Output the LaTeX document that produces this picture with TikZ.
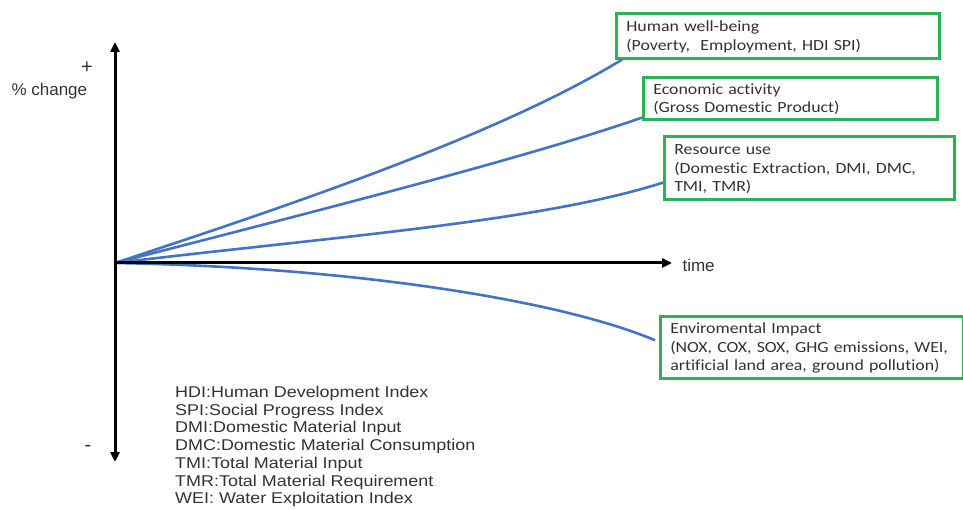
\documentclass[tikz,border=0pt]{standalone}
\usepackage{fontspec}
\setmainfont{Liberation Sans}
\newfontfamily\boxfont[FakeStretch=1.15, Ligatures=NoCommon]{Carlito}
\newfontfamily\legendfont[FakeStretch=1.15]{Liberation Sans}
\usetikzlibrary{arrows.meta}

\definecolor{curveblue}{RGB}{68,114,196}
\definecolor{boxgreen}{RGB}{46,176,90}
\definecolor{textgray}{RGB}{50,50,50}

\tikzset{
    trendbox/.style={draw=boxgreen, line width=2.6pt, anchor=north west, align=left, text=textgray,
                     inner xsep=10pt, inner ysep=0pt, font=\boxfont\fontsize{15.5}{18.5}\selectfont},
    trend/.style={line width=2.6pt, curveblue},
    axis/.style={line width=3pt, black, -{Triangle[length=10pt,width=9pt]}},
    axislabel/.style={text=textgray, font=\fontsize{17}{17}\selectfont}
}

\begin{document}
\begin{tikzpicture}[x=1pt, y=-1pt]
            \useasboundingbox (0,0) rectangle (963,510);

            \coordinate (O)    at (115,263);
            \coordinate (Ytop) at (115,42);
            \coordinate (Ybot) at (115,462);
            \coordinate (Xend) at (672,263);

            \node[trendbox, text width=303pt, minimum height=45pt] (HW) at (615,12)
                {\strut Human well-being\\(Poverty,\ \ Employment, HDI SPI)};
            \node[trendbox, text width=274pt, minimum height=42pt] (EA) at (642,76)
                {\strut Economic activity\\(Gross Domestic Product)};
            \node[trendbox, text width=270pt, minimum height=63pt] (RU) at (663,135)
                {\strut Resource use\\(Domestic Extraction, DMI, DMC,\\TMI, TMR)};
            \node[trendbox, text width=283pt, minimum height=62pt] (EI) at (659,315)
                {\strut Enviromental Impact\\(NOX, COX, SOX, GHG emissions, WEI,\\artificial land area, ground pollution)};

            \node[axislabel, font=\fontsize{20}{20}\selectfont] (plus) at (87,68)  {+};
            \node[axislabel, anchor=west] (pchange) at (8,91) {\% change};
            \node[axislabel, font=\fontsize{20}{20}\selectfont] (minus) at (88,448) {-};
            \node[axislabel, anchor=west] (time) at (679,265) {time};

            \node[font=\legendfont\fontsize{15.6}{17.7}\selectfont, align=left, anchor=north west,
                  text=textgray, inner sep=0pt] (legend) at (175,386)
                {HDI:Human Development Index\\SPI:Social Progress Index\\DMI:Domestic Material Input\\
                 DMC:Domestic Material Consumption\\TMI:Total Material Input\\
                 TMR:Total Material Requirement\\WEI: Water Exploitation Index};

            \draw[trend] (O) .. controls (300,202) and (500,134) .. ([xshift=7pt]HW.south west);
            \draw[trend] (O) .. controls (300,215) and (520,160) .. ([yshift=3pt]EA.south west);
            \draw[trend] (O) .. controls (330,237) and (540,222) .. ([yshift=18pt]RU.south west);
            \draw[trend] (O) .. controls (350,267) and (560,300) .. ([xshift=-4pt,yshift=7pt]EI.west);

            \draw[axis] (O) -- (Ytop);
            \draw[axis] (O) -- (Ybot);
            \draw[axis] (O) -- (Xend);
        \end{tikzpicture}
\end{document}
